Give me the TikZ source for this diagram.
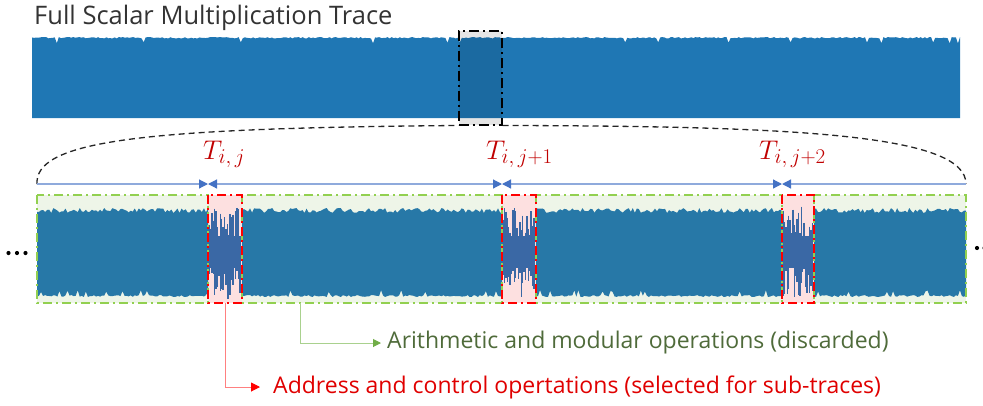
\RequirePackage{fix-cm}
\documentclass[tikz,border=0pt]{standalone}
\usepackage{fontspec}
\setmainfont{Open Sans}
\usetikzlibrary{arrows.meta}
\definecolor{barblue}{HTML}{1F77B4}
\definecolor{sigblue}{HTML}{2778A7}
\definecolor{spikeblue}{HTML}{3A68A5}
\definecolor{greenfill}{HTML}{EEF5E8}
\definecolor{greenline}{HTML}{92D050}
\definecolor{pinkfill}{HTML}{FDE0E0}
\definecolor{dimline}{HTML}{8FAADC}
\definecolor{dimtip}{HTML}{4472C4}
\definecolor{labred}{HTML}{C00000}
\definecolor{greentext}{HTML}{4F6B3A}
\definecolor{callgreen}{HTML}{A9D18E}
\definecolor{tipgreen}{HTML}{70AD47}
\definecolor{callred}{HTML}{FF8080}
\definecolor{redtext}{HTML}{E00000}
\newcommand\mysub[1]{\hbox{\fontsize{21}{24}\selectfont$#1$}}
\newcommand\mysigseg[2]{%
  \pgfmathtruncatemacro\ns{(#2-#1)/2}%
  \fill[sigblue] plot[domain=#1:#2,samples=\ns] (\x,{208+5*rnd}) -- plot[domain=#2:#1,samples=\ns] (\x,{295+2*rnd-5*(rnd>0.93)}) -- cycle;}
\newcommand\myspikes[2]{%
  \pgfmathsetmacro\sa{#1+1.4}%
  \fill[spikeblue] (#1,236) rectangle (#2,268);
  \foreach \x in {#1,\sa,...,#2}{%
    \pgfmathsetmacro\tt{206+34*rnd}%
    \pgfmathsetmacro\bb{300-34*rnd}%
    \draw[spikeblue,line width=1.4pt] (\x,\tt) -- (\x,\bb);}}
\tikzset{
  greenseg/.style={draw=greenline, line width=1.6pt, dash pattern=on 9pt off 4pt on 2pt off 4pt},
  redseg/.style={draw=red, line width=1.8pt, dash pattern=on 9pt off 4pt on 2pt off 4pt},
  zoombox/.style={draw=black, line width=1.5pt, dash pattern=on 10pt off 4pt on 2pt off 4pt},
  zoomcurve/.style={draw=black!85, line width=1.3pt, dash pattern=on 6pt off 4pt},
  dimarrow/.style={draw=dimline, line width=1.2pt},
  dtip/.style={arrows={-{Triangle[length=9pt,width=9pt,color=dimtip]}}},
  dboth/.style={arrows={{Triangle[length=9pt,width=9pt,color=dimtip]}-{Triangle[length=9pt,width=9pt,color=dimtip]}}},
  dstart/.style={arrows={{Triangle[length=9pt,width=9pt,color=dimtip]}-}},
  tlabel/.style={text=labred, font=\fontsize{27}{32}\selectfont, inner sep=0pt, anchor=base west},
  dot/.style={fill=black, circle, inner sep=0pt, minimum size=4.2pt},
  calltext/.style={inner sep=0pt, anchor=west, font=\fontsize{23}{27}\selectfont},
}
\begin{document}
\begin{tikzpicture}[x=1pt,y=-1pt]
\useasboundingbox (0,0) rectangle (983,405);
\pgfmathsetseed{4242}
% title
\node[inner sep=0pt, anchor=base west, font=\fontsize{25.5}{30}\selectfont, text=black!80] (title) at (34,24) {Full Scalar Multiplication Trace};
% full trace bar
\fill[barblue] plot[domain=32:960,samples=450] (\x,{37+1.5*rnd+5*(rnd>0.97)}) -- (960,118) -- (32,118) -- cycle;
% zoom box
\node[zoombox, fill=black, fill opacity=0.1, minimum width=43pt, minimum height=94pt, inner sep=0pt, anchor=north west] (zoom) at (458,30) {};
% green segments (fill)
\foreach \a/\b/\n in {37/208/g1, 242/502/g2, 536/782/g3, 814/966/g4}{
  \fill[greenfill] (\a,195) rectangle (\b,303);
  \coordinate (\n) at (\a,303);
}
% red boxes (fill)
\foreach \a/\b in {208/242, 502/536, 782/814}{
  \fill[pinkfill] (\a,195) rectangle (\b,303);
}
% signals
\mysigseg{37}{208}
\mysigseg{242}{502}
\mysigseg{536}{782}
\mysigseg{814}{966}
\myspikes{209}{241}
\myspikes{503}{535}
\myspikes{783}{813}
% borders
\foreach \a/\b in {37/208, 242/502, 536/782, 814/966}{
  \draw[greenseg] (\a,195) rectangle (\b,303);
}
\foreach \a/\b/\n in {208/242/r1, 502/536/r2, 782/814/r3}{
  \draw[redseg] (\a,195) rectangle (\b,303);
  \coordinate (\n) at (\a,184);
}
% zoom curves
\coordinate (dl) at (37,184);
\coordinate (dr) at (966,184);
\draw[zoomcurve] (dl) -- ++(0,-3) .. controls (40,140) and (150,128) .. (zoom.south west);
\draw[zoomcurve] (zoom.south east) .. controls (800,126) and (966,135) .. (dr);
% dimension line
\draw[dimarrow, dtip] (dl) -- (r1);
\draw[dimarrow, dboth] (r1) -- (r2);
\draw[dimarrow, dboth] (r2) -- (r3);
\draw[dimarrow, dstart] (r3) -- (dr);
% labels
\node[tlabel] (t1) at (203,159) {$T_{\mysub{i,j}}$};
\node[tlabel] (t2) at (486,159) {$T_{\mysub{i,j{+}1}}$};
\node[tlabel] (t3) at (759,159) {$T_{\mysub{i,j{+}2}}$};
% dots
\foreach \x/\n in {8.5/l1, 17/l2, 25.5/l3}{\node[dot] (\n) at (\x,253) {};}
\foreach \x/\n in {977/q1, 984.5/q2}{\node[dot] (\n) at (\x,248) {};}
% callouts
\coordinate (ga) at (300,303);
\coordinate (ra) at (225,303);
\node[calltext, text=greentext] (arith) at (387,343) {Arithmetic and modular operations (discarded)};
\node[calltext, text=redtext] (addr) at (273,387) {Address and control opertations (selected for sub-traces)};
\draw[callgreen, line width=1pt, arrows={-{Triangle[length=8pt,width=8pt,color=tipgreen]}}, shorten >=6pt] (ga) |- (arith.west);
\draw[callred, line width=1pt, arrows={-{Triangle[length=9pt,width=9pt,color=red]}}, shorten >=13pt] (ra) |- (addr.west);
\end{tikzpicture}
\end{document}
